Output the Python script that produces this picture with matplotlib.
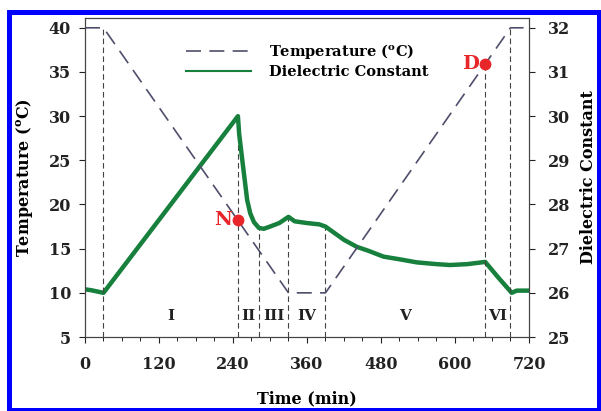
import numpy as np
import matplotlib
matplotlib.use('Agg')
import matplotlib.pyplot as plt
from matplotlib.lines import Line2D
from matplotlib.patches import Rectangle
from matplotlib.ticker import MultipleLocator

plt.rcParams['font.family'] = 'DejaVu Serif'
plt.rcParams['font.weight'] = 'bold'
plt.rcParams['mathtext.fontset'] = 'dejavuserif'

# temperature programme (min, degC)
temp_time = [0, 30, 330, 390, 690, 720]
temp_vals = [40, 40, 10, 10, 40, 40]

# dielectric constant (min, value)
dc_time = [0, 10, 20, 30, 248, 250, 256, 263, 268, 274, 282, 290, 300, 315, 330,
           340, 360, 380, 390, 400, 420, 441, 460, 484, 510, 538, 570, 592, 620,
           649, 670, 692, 700, 720]
dc_vals = [26.08, 26.06, 26.03, 26.0, 30.0, 29.6, 28.9, 28.1, 27.8, 27.6, 27.47,
           27.45, 27.5, 27.58, 27.72, 27.62, 27.58, 27.55, 27.5, 27.4, 27.2, 27.04,
           26.95, 26.82, 26.76, 26.69, 26.65, 26.63, 26.65, 26.7, 26.35, 26.0,
           26.05, 26.05]

# stage boundaries
temp_marks = [30, 649, 690]
dc_marks = [248, 282, 330, 390]
stage_labels = ['I', 'II', 'III', 'IV', 'V', 'VI']
stage_edges = [30, 248, 282, 330, 390, 649, 690]

# special points
point_names = ['N', 'D']
point_times = [248, 649]

green = '#16803c'
tcol = '#4e4e6c'
red = '#e8262a'

fig = plt.figure(figsize=(6.01, 4.11), dpi=100)
ax = fig.add_axes([0.1414, 0.180, 0.7388, 0.776])
ax2 = ax.twinx()

ax.set_xlim(0, 720)
ax.set_ylim(5, 41.1)
ax2.set_ylim(25, 32.22)

# dashed guide lines
ax.vlines(temp_marks, 5, np.interp(temp_marks, temp_time, temp_vals),
          colors='#444444', linestyles=(0, (5, 3)), linewidth=0.8)
ax2.vlines(dc_marks, 25, np.interp(dc_marks, dc_time, dc_vals),
           colors='#444444', linestyles=(0, (5, 3)), linewidth=0.8)

ax2.plot(dc_time, dc_vals, color=green, lw=3.2, solid_joinstyle='round')
ax.plot(temp_time, temp_vals, color=tcol, lw=1.2, dashes=(9, 5))

ax.set_zorder(ax2.get_zorder() + 1)
ax.patch.set_visible(False)

pt_y = np.interp(point_times, temp_time, temp_vals)
ax.plot(point_times, pt_y, 'o', color=red, ms=7.5, zorder=5)
for name, x, y in zip(point_names, point_times, pt_y):
    ax.text(x - 10, y, name, color=red, fontsize=14, fontweight='bold',
            ha='right', va='center')

for i, lab in enumerate(stage_labels):
    xm = (stage_edges[i] + stage_edges[i + 1]) / 2
    ax.text(xm, 7.4, lab, fontsize=11, fontweight='bold', ha='center',
            va='center', color='#222222')

ax.xaxis.set_major_locator(MultipleLocator(120))
ax.xaxis.set_minor_locator(MultipleLocator(30))
ax.yaxis.set_major_locator(MultipleLocator(5))
ax2.yaxis.set_major_locator(MultipleLocator(1))
ax.tick_params(axis='x', which='major', direction='out', length=4,
               labelsize=11.5, colors='#222222', pad=9.5)
ax.tick_params(axis='y', which='major', direction='out', length=4,
               labelsize=11.5, colors='#222222', pad=6)
ax.tick_params(axis='x', which='minor', direction='out', length=3)
ax2.tick_params(axis='y', direction='out', length=4, labelsize=11.5,
                colors='#222222', pad=9.5)
for a in (ax, ax2):
    for sp in a.spines.values():
        sp.set_color('#444444')
        sp.set_linewidth(0.8)

ax.set_xlabel('Time (min)', fontsize=11.5, fontweight='bold', labelpad=13)
ax.set_ylabel('Temperature ($^\\mathbf{o}$C)', fontsize=11.5, fontweight='bold',
              labelpad=10)
ax2.set_ylabel('Dielectric Constant', fontsize=11.5, fontweight='bold',
               labelpad=7)

handles = [Line2D([], [], color=tcol, lw=1.2, dashes=(9, 5)),
           Line2D([], [], color=green, lw=1.5)]
ax.legend(handles, ['Temperature ($^\\mathbf{o}$C)', 'Dielectric Constant'],
          loc='upper center', bbox_to_anchor=(0.5, 0.965), frameon=False,
          fontsize=10.5, handlelength=4.5, handletextpad=1.2, labelspacing=0.25)

# blue frame around the figure
fig.patches.append(Rectangle((0.0158, 0.0024), 0.9809, 0.9672,
                             transform=fig.transFigure, fill=False,
                             edgecolor='#0000ff', linewidth=3.6))

fig.savefig('out.png', dpi=100)
